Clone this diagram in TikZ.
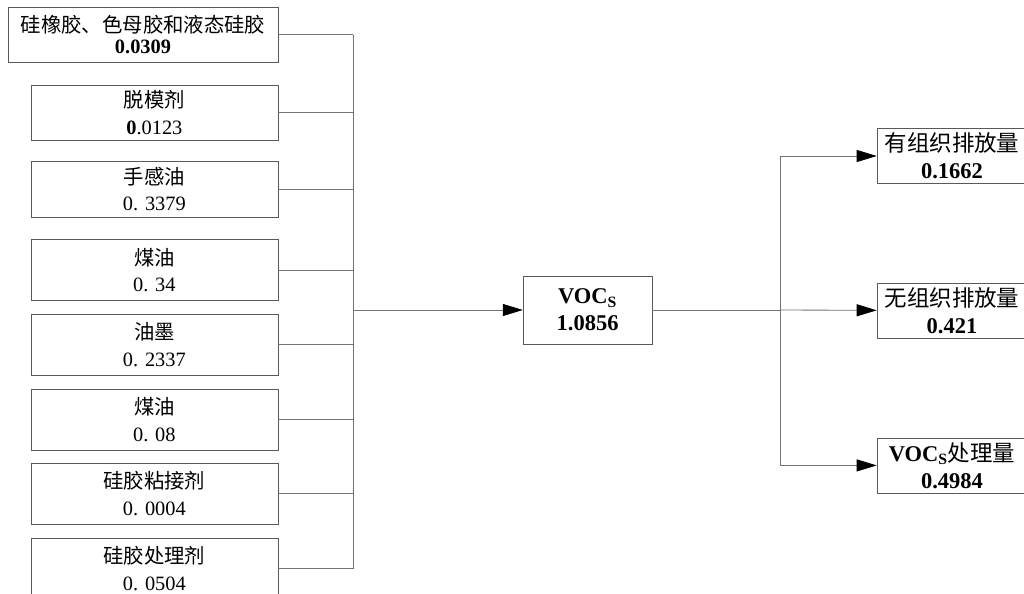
\documentclass[tikz,border=0pt]{standalone}
\usepackage{fontspec}
\setmainfont{Liberation Serif}
\newfontfamily\cjk{Noto Sans CJK SC}
\usetikzlibrary{arrows.meta, positioning}

\begin{document}
\begin{tikzpicture}[
		srcnode/.style={draw=black!65, rectangle, minimum width=6.175cm, minimum height=1.525cm, align=center, inner sep=0pt, font=\fontsize{14.5}{19}\selectfont},
		sumnode/.style={draw=black!65, rectangle, minimum width=3.225cm, minimum height=1.7cm, align=center, inner sep=0pt, font=\fontsize{16}{19}\selectfont\bfseries},
		outnode/.style={draw=black!65, rectangle, minimum width=3.75cm, minimum height=1.375cm, align=center, inner sep=0pt, font=\fontsize{16}{19}\selectfont},
		line/.style={draw=black!55, line width=0.6pt},
		arrow/.style={line, -{Triangle[length=0.5cm, width=0.3cm, color=black]}}
		]
		
		\clip (0, 0) rectangle (25.6, 14.825);
		
		% Sources
		\node[srcnode, minimum width=6.75cm, minimum height=1.375cm, font=\fontsize{14.5}{15}\selectfont] (s1) at (3.575, 13.96) {{\cjk 硅橡胶、色母胶和液态硅胶}\\\textbf{0.0309}};
		\node[srcnode, minimum height=1.375cm] (s2) at (3.86, 12.01) {{\cjk 脱模剂}\\\textbf{0}.0123};
		\node[srcnode, minimum height=1.4cm] (s3) at (3.86, 10.10) {{\cjk 手感油}\\0. 3379};
		\node[srcnode] (s4) at (3.86, 8.075) {{\cjk 煤油}\\0. 34};
		\node[srcnode] (s5) at (3.86, 6.21) {{\cjk 油墨}\\0. 2337};
		\node[srcnode] (s6) at (3.86, 4.34) {{\cjk 煤油}\\0. 08};
		\node[srcnode] (s7) at (3.86, 2.49) {{\cjk 硅胶粘接剂}\\0. 0004};
		\node[srcnode] (s8) at (3.86, 0.61) {{\cjk 硅胶处理剂}\\0. 0504};
		
		% Total
		\node[sumnode] (voc) at (14.69, 7.075) {VOC\textsubscript{S}\\1.0856};
		
		% Outputs
		\node[outnode] (o1) at (23.8, 10.925) {{\cjk 有组织排放量}\\\textbf{0.1662}};
		\node[outnode] (o2) at (23.8, 7.06) {{\cjk 无组织排放量}\\\textbf{0.421}};
		\node[outnode] (o3) at (23.8, 3.19) {\textbf{VOC\textsubscript{S}}{\cjk 处理量}\\\textbf{0.4984}};
		
		% Collecting bus
		\coordinate (busL) at (8.825, 7.075);
		\coordinate (busR) at (19.5, 7.075);
		\foreach \i in {1,...,8}
			\draw[line] (s\i.east) -- (s\i.east -| busL);
		\draw[line] (s1.east -| busL) -- (s8.east -| busL);
		\draw[arrow] (busL) -- (voc);
		
		% Split
		\draw[line] (voc) -- (busR);
		\draw[arrow] (busR) |- (o1);
		\draw[arrow] (busR) -- (o2);
		\draw[arrow] (busR) |- (o3);
		
	\end{tikzpicture}
\end{document}
